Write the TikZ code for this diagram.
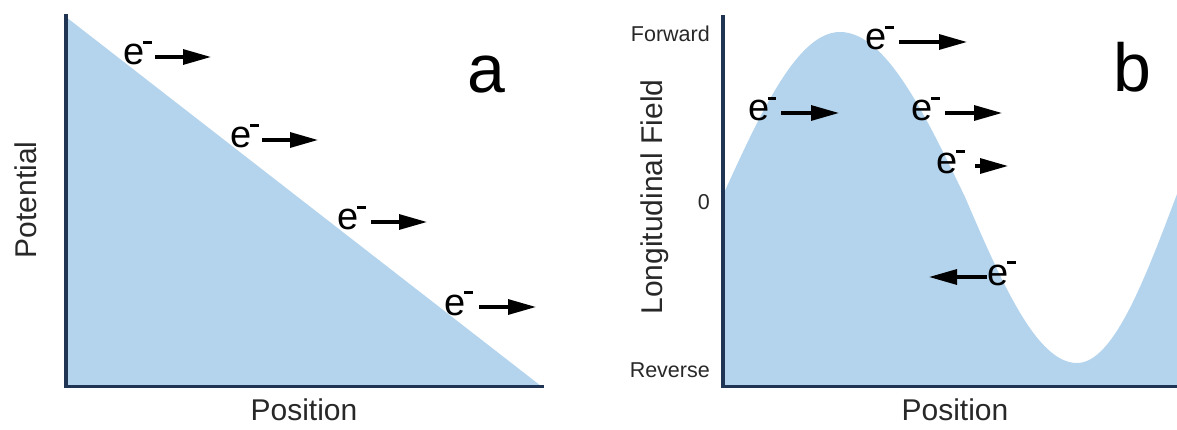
\documentclass[tikz,border=0pt]{standalone}
\usepackage{fontspec}
\setmainfont{Liberation Sans}
\usetikzlibrary{arrows.meta}
\definecolor{bluefill}{RGB}{180,212,237}
\definecolor{axiscol}{RGB}{32,52,84}
\definecolor{txtcol}{RGB}{40,40,40}
\newcommand{\elec}{e\kern-1.5pt\raisebox{21pt}{\rule{8.5pt}{2.6pt}}}
\begin{document}
\begin{tikzpicture}[x=1pt,y=-1pt,
  axisline/.style={line width=3.5pt, draw=axiscol, line cap=rect},
  arr/.style={line width=3.2pt, -{Triangle[length=28pt,width=15pt]}},
  elab/.style={inner sep=0pt, anchor=base west, font=\fontsize{38}{40}\selectfont},
  axlab/.style={inner sep=0pt, text=txtcol, font=\fontsize{30}{32}\selectfont},
  ticklab/.style={inner sep=0pt, text=txtcol, anchor=base east, font=\fontsize{21.5}{23}\selectfont},
  biglab/.style={inner sep=0pt, anchor=base, font=\fontsize{68}{70}\selectfont}]
\useasboundingbox (0,0) rectangle (1177,430);

% ---------- panel a ----------
\fill[bluefill] (66,17) -- (541,386) -- (66,386) -- cycle;
\draw[axisline] (66,16) -- (66,386.5) -- (542,386.5);

\node[axlab, rotate=90, anchor=base] (pot) at (36,200) {Potential};
\node[axlab, anchor=base] (posa) at (304,420) {Position};
\node[biglab] (la) at (486,93) {a};

\node[elab] (ea1) at (123.5,65) {\elec};
\coordinate (ea1s) at (155,57); \coordinate (ea1t) at (211,57);
\draw[arr] (ea1s) -- (ea1t);

\node[elab] (ea2) at (230.5,148) {\elec};
\coordinate (ea2s) at (262,140); \coordinate (ea2t) at (318,140);
\draw[arr] (ea2s) -- (ea2t);

\node[elab] (ea3) at (337.5,230) {\elec};
\coordinate (ea3s) at (371,222); \coordinate (ea3t) at (427,222);
\draw[arr] (ea3s) -- (ea3t);

\node[elab] (ea4) at (444.5,315) {\elec};
\coordinate (ea4s) at (479,307); \coordinate (ea4t) at (536,307);
\draw[arr] (ea4s) -- (ea4t);

% ---------- panel b ----------
\fill[bluefill] (723,386) -- (723,195) sin (840,32) cos (965,197)
   sin (1077,363) cos (1177,194) -- (1177,386) -- cycle;
\draw[axisline] (723,17) -- (723,386.5) -- (1177,386.5);

\node[axlab, rotate=90, anchor=base] (lf) at (662,197) {Longitudinal Field};
\node[axlab, anchor=base] (posb) at (955,420) {Position};
\node[ticklab] (fw) at (710,42) {Forward};
\node[ticklab] (zero) at (710,210) {0};
\node[ticklab] (rv) at (710,377) {Reverse};
\node[biglab] (lb) at (1132,92) {b};

\node[elab] (eb1) at (865.5,50) {\elec};
\coordinate (eb1s) at (899,42); \coordinate (eb1t) at (967,42);
\draw[arr] (eb1s) -- (eb1t);

\node[elab] (eb2) at (748,121) {\elec};
\coordinate (eb2s) at (781,113); \coordinate (eb2t) at (839,113);
\draw[arr] (eb2s) -- (eb2t);

\node[elab] (eb3) at (911.5,121) {\elec};
\coordinate (eb3s) at (945,113); \coordinate (eb3t) at (1002,113);
\draw[arr] (eb3s) -- (eb3t);

\node[elab] (eb4) at (936.5,174) {\elec};
\coordinate (eb4s) at (975,166); \coordinate (eb4t) at (1008,166);
\draw[arr] (eb4s) -- (eb4t);

\node[elab] (eb5) at (987.5,285) {\elec};
\coordinate (eb5s) at (987,277); \coordinate (eb5t) at (929,277);
\draw[arr] (eb5s) -- (eb5t);
\end{tikzpicture}
\end{document}
